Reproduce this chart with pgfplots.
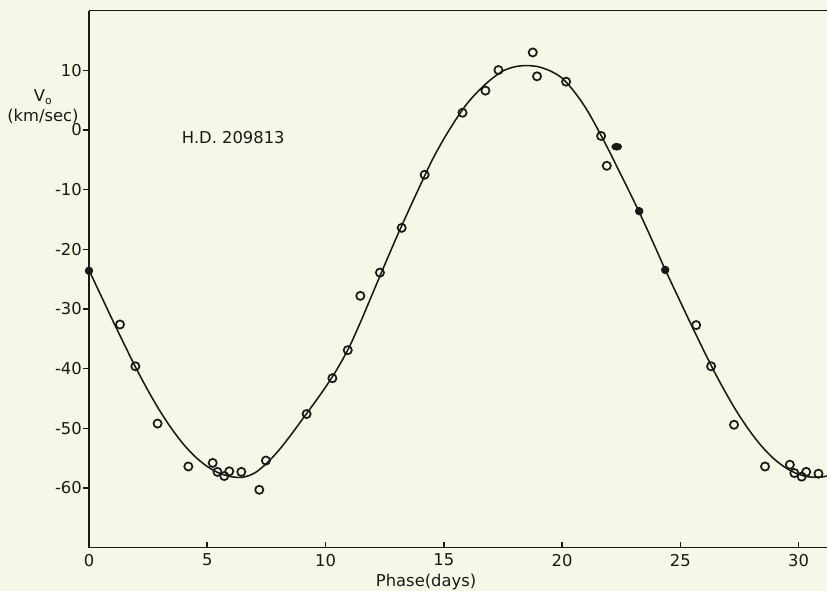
\documentclass[border=0pt]{standalone}
\usepackage{fontspec}
\setmainfont{DejaVu Sans}
\usepackage{pgfplots}
\pgfplotsset{compat=1.18}
\usetikzlibrary{backgrounds}
\definecolor{paper}{RGB}{246,247,231}
\definecolor{ink}{RGB}{25,25,25}

\begin{document}
\begin{tikzpicture}[background rectangle/.style={fill=paper}, show background rectangle, inner frame sep=0pt]
\begin{axis}[
    name=ax,
    scale only axis,
    width=14.28cm, height=10.39cm,
    xmin=0, xmax=31.2,
    ymin=-70, ymax=20,
    axis lines*=left,
    axis line style={ink, line width=0.85pt},
    xtick={0,5,...,30},
    ytick={-60,-50,...,10},
    xtick align=inside,
    ytick align=outside,
    major tick length=3.2pt,
    tick style={ink, line width=0.85pt},
    /pgf/number format/assume math mode=true,
    tick label style={font=\fontsize{9}{11}\selectfont, text=ink},
    yticklabel style={inner sep=0.6pt},
    clip=false,
]
% fitted velocity curve
\addplot[ink, line width=0.85pt, smooth] coordinates {
    (0,-23.5) (0.5,-27.7) (1.0,-31.9) (1.5,-36.0) (2.0,-40.0) (2.5,-43.7)
    (3.0,-47.1) (3.5,-50.1) (4.0,-52.7) (4.5,-54.8) (5.0,-56.4) (5.5,-57.5)
    (6.0,-58.1) (6.5,-58.2) (7.0,-57.5) (7.5,-55.9) (8.0,-53.8) (8.5,-51.3)
    (9.0,-48.6) (9.5,-45.9) (10.0,-43.1) (10.5,-40.0) (11.0,-36.4) (11.5,-32.0)
    (12.0,-27.3) (12.5,-22.6) (13.0,-18.0) (13.5,-13.6) (14.0,-9.3) (14.5,-5.1)
    (15.0,-1.5) (15.5,1.7) (16.0,4.5) (16.5,6.7) (17.0,8.5) (17.5,9.9)
    (18.0,10.6) (18.5,10.8) (19.0,10.6) (19.5,9.9) (20.0,8.7) (20.5,6.5)
    (21.0,3.7) (21.5,0.2) (22.0,-3.6) (22.5,-7.6) (23.0,-11.6) (23.5,-15.8)
    (24.0,-20.2) (24.37,-23.5) (24.87,-27.7) (25.37,-31.9) (25.87,-36.0) (26.37,-40.0)
    (26.87,-43.7) (27.37,-47.1) (27.87,-50.1) (28.37,-52.7) (28.87,-54.8) (29.37,-56.4)
    (29.87,-57.5) (30.37,-58.1) (30.87,-58.2) (31.2,-58.0)
};
% open circles
\addplot[only marks, mark=o, mark size=2.25pt, mark options={ink, line width=0.95pt, fill=paper}] coordinates {
    (1.31,-32.6) (1.96,-39.6) (2.90,-49.2) (4.20,-56.4) (5.23,-55.8) (5.43,-57.3)
    (5.72,-58.0) (5.93,-57.2) (6.44,-57.3) (7.20,-60.3) (7.48,-55.4) (9.20,-47.6)
    (10.29,-41.6) (10.94,-36.9) (11.47,-27.8) (12.30,-23.9) (13.22,-16.4) (14.19,-7.5)
    (15.79,2.9) (16.76,6.6) (17.31,10.05) (18.76,13.0) (18.94,9.0) (20.17,8.1)
    (21.65,-1.0) (21.89,-6.0) (25.67,-32.7) (26.30,-39.6) (27.27,-49.4) (28.58,-56.4)
    (29.63,-56.1) (29.82,-57.5) (30.13,-58.1) (30.32,-57.3) (30.84,-57.6)
};
% filled points
\addplot[only marks, mark=*, mark size=2.1pt, mark options={ink, fill=ink}] coordinates {
    (0,-23.6) (23.26,-13.6) (24.36,-23.45)
};
\addplot[only marks, mark=*, mark size=1.9pt, mark options={ink, fill=ink, xscale=1.45}] coordinates {
    (22.31,-2.8)
};
\draw[ink, line width=0.85pt] (rel axis cs:0,1) -- (rel axis cs:1,1);
\node[font=\fontsize{9}{11}\selectfont, text=ink] at (axis cs:6.1,-1.3) {H.D. 209813};
\node[font=\fontsize{9}{11}\selectfont, text=ink, align=center] at (axis cs:-1.95,3.9)
    {V\raisebox{-0.35ex}{\fontsize{6}{6}\selectfont o}\\(km/sec)};
\node[font=\fontsize{9}{11}\selectfont, text=ink, anchor=base] at (axis cs:14.25,-70)
    [yshift=-0.755cm] {Phase(days)};
\end{axis}
\pgfresetboundingbox
\path ([xshift=-1.722cm,yshift=-0.832cm]ax.south west) rectangle ([yshift=0.207cm]ax.north east);
\end{tikzpicture}
\end{document}
